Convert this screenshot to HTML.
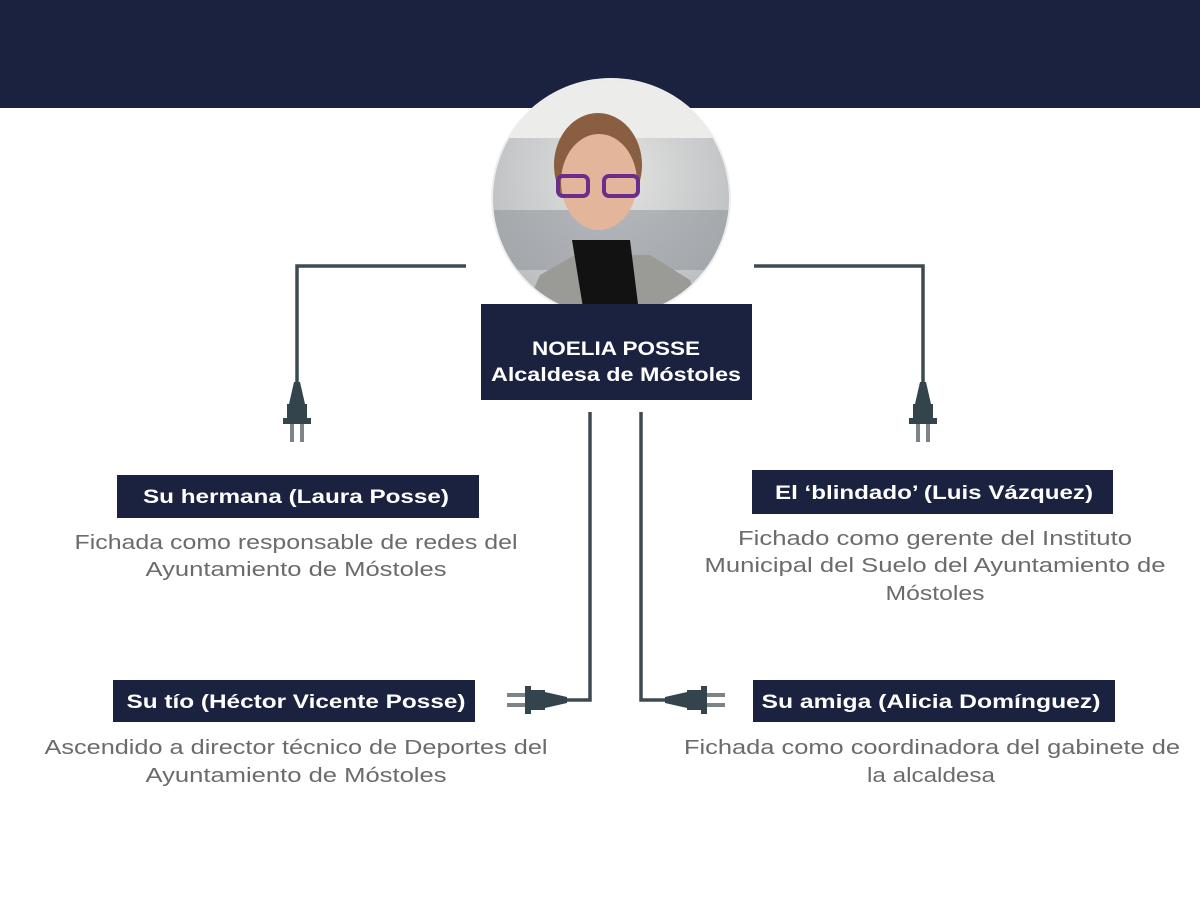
<!DOCTYPE html>
<html><head><meta charset="utf-8"><style>
html,body{margin:0;padding:0;background:#fff;}
body{width:1200px;height:900px;overflow:hidden;}
</style></head><body>
<svg width="1200" height="900" viewBox="0 0 1200 900" xmlns="http://www.w3.org/2000/svg" font-family="Liberation Sans, sans-serif">
<defs>
<clipPath id="c"><circle cx="611" cy="198" r="118"/></clipPath>
<radialGradient id="bg" cx="0.5" cy="0.4" r="0.6"><stop offset="0" stop-color="#e4e4e2"/><stop offset="1" stop-color="#b9bcbf"/></radialGradient>
<g id="plug">
<polygon points="-3,0 3,0 8,22 -8,22" fill="#34444c"/>
<rect x="-10" y="22" width="20" height="14" fill="#34444c"/>
<rect x="-14" y="36" width="28" height="6" fill="#34444c"/>
<rect x="-7" y="42" width="4" height="18" fill="#7d8488"/>
<rect x="3" y="42" width="4" height="18" fill="#7d8488"/>
</g>
</defs>
<rect x="0" y="0" width="1200" height="108" fill="#1b2240"/>
<circle cx="611" cy="198" r="120" fill="#eeeeee"/>
<g clip-path="url(#c)">
<rect x="490" y="78" width="245" height="245" fill="url(#bg)"/>
<rect x="490" y="78" width="245" height="60" fill="#ececea"/>
<rect x="490" y="210" width="245" height="60" fill="#8a9098" opacity="0.5"/>
<ellipse cx="598" cy="165" rx="44" ry="52" fill="#8a5e40"/>
<ellipse cx="599" cy="182" rx="38" ry="48" fill="#e3b59b"/>
<rect x="558" y="176" width="30" height="20" rx="5" fill="none" stroke="#6a2d8c" stroke-width="4"/>
<rect x="604" y="176" width="34" height="20" rx="5" fill="none" stroke="#6a2d8c" stroke-width="4"/>
<path d="M520 320 L540 275 L575 255 L650 255 L690 280 L705 320 Z" fill="#9a9a96"/>
<path d="M572 240 L630 240 L640 320 L585 320 Z" fill="#121212"/>
</g>
<rect x="481" y="304" width="271" height="96" fill="#1b2240"/>
<text x="616" y="355" text-anchor="middle" fill="#fff" font-weight="bold" font-size="19" textLength="168" lengthAdjust="spacingAndGlyphs">NOELIA POSSE</text>
<text x="616" y="381" text-anchor="middle" fill="#fff" font-weight="bold" font-size="19" textLength="250" lengthAdjust="spacingAndGlyphs">Alcaldesa de Móstoles</text>
<g fill="none" stroke="#3d4a52" stroke-width="3.5">
<polyline points="466,266 297,266 297,384"/>
<polyline points="754,266 923,266 923,384"/>
<polyline points="590,412 590,700 567,700"/>
<polyline points="641,412 641,700 665,700"/>
</g>
<use href="#plug" transform="translate(297,382)"/>
<use href="#plug" transform="translate(923,382)"/>
<use href="#plug" transform="translate(567,700) rotate(90)"/>
<use href="#plug" transform="translate(665,700) rotate(-90)"/>
<g font-size="20" fill="#6b6b6b" text-anchor="middle">
<rect x="117" y="475" width="362" height="43" fill="#1b2240"/>
<text x="296" y="503" fill="#fff" font-weight="bold" font-size="19" textLength="306" lengthAdjust="spacingAndGlyphs">Su hermana (Laura Posse)</text>
<text x="296" y="549" textLength="443" lengthAdjust="spacingAndGlyphs">Fichada como responsable de redes del</text>
<text x="296" y="576" textLength="301" lengthAdjust="spacingAndGlyphs">Ayuntamiento de Móstoles</text>

<rect x="752" y="470" width="361" height="44" fill="#1b2240"/>
<text x="934" y="499" fill="#fff" font-weight="bold" font-size="19" textLength="318" lengthAdjust="spacingAndGlyphs">El ‘blindado’ (Luis Vázquez)</text>
<text x="935" y="545" textLength="394" lengthAdjust="spacingAndGlyphs">Fichado como gerente del Instituto</text>
<text x="935" y="572" textLength="461" lengthAdjust="spacingAndGlyphs">Municipal del Suelo del Ayuntamiento de</text>
<text x="935" y="600" textLength="99" lengthAdjust="spacingAndGlyphs">Móstoles</text>

<rect x="113" y="680" width="362" height="42" fill="#1b2240"/>
<text x="296" y="708" fill="#fff" font-weight="bold" font-size="19" textLength="339" lengthAdjust="spacingAndGlyphs">Su tío (Héctor Vicente Posse)</text>
<text x="296" y="754" textLength="503" lengthAdjust="spacingAndGlyphs">Ascendido a director técnico de Deportes del</text>
<text x="296" y="782" textLength="301" lengthAdjust="spacingAndGlyphs">Ayuntamiento de Móstoles</text>

<rect x="753" y="680" width="362" height="42" fill="#1b2240"/>
<text x="931" y="708" fill="#fff" font-weight="bold" font-size="19" textLength="339" lengthAdjust="spacingAndGlyphs">Su amiga (Alicia Domínguez)</text>
<text x="932" y="754" textLength="496" lengthAdjust="spacingAndGlyphs">Fichada como coordinadora del gabinete de</text>
<text x="931" y="782" textLength="128" lengthAdjust="spacingAndGlyphs">la alcaldesa</text>
</g>
</svg>
</body></html>
